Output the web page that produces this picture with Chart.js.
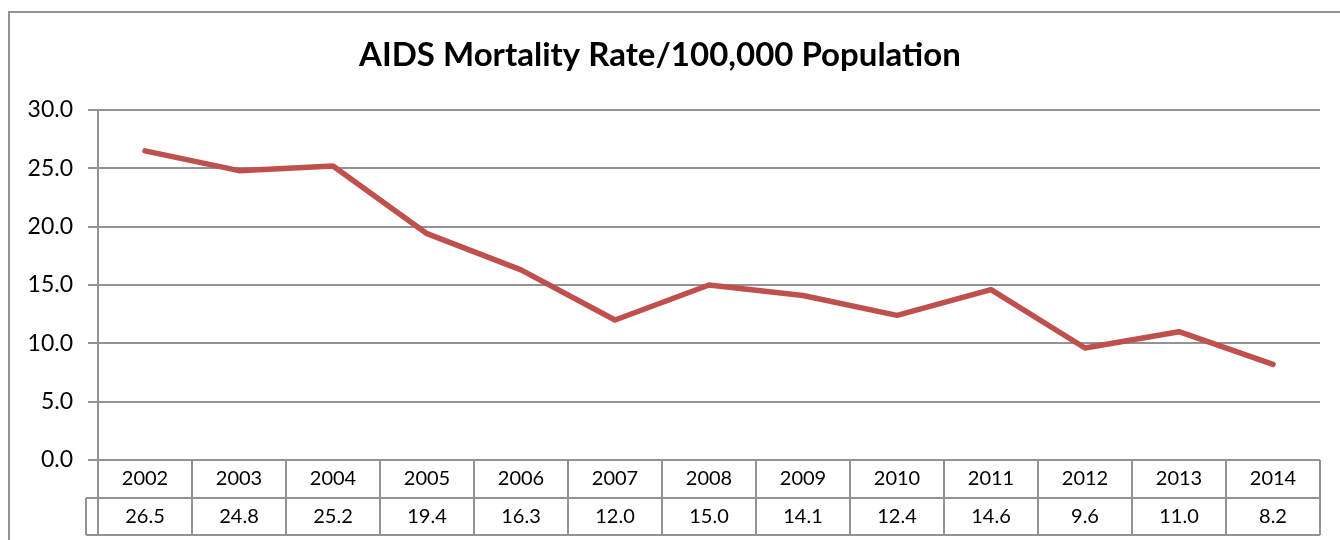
<!DOCTYPE html>
<html>
<head>
<meta charset="utf-8">
<script src="https://cdn.jsdelivr.net/npm/chart.js@4"></script>
<style>
  html, body { margin: 0; padding: 0; background: #fff; }
  #chart { position: relative; width: 1340px; height: 540px; }
</style>
</head>
<body>
<div id="chart"><canvas id="c"></canvas></div>
<script>
const years = ['2002', '2003', '2004', '2005', '2006', '2007', '2008', '2009', '2010', '2011', '2012', '2013', '2014']
const rates = [26.5, 24.8, 25.2, 19.4, 16.3, 12.0, 15.0, 14.1, 12.4, 14.6, 9.6, 11.0, 8.2]
const titleText = 'AIDS Mortality Rate/100,000 Population'

const FONT = 'Lato, "Noto Sans", sans-serif'
const GRID = '#939393'

// outer frame + the data table under the plot
const tablePlugin = {
  id: 'dataTable',
  beforeDraw(chart) {
    const ctx = chart.ctx
    ctx.save()
    ctx.strokeStyle = GRID
    ctx.lineWidth = 2
    ctx.beginPath()
    ctx.moveTo(9, chart.height)
    ctx.lineTo(9, 12)
    ctx.lineTo(chart.width, 12)
    ctx.stroke()
    ctx.restore()
  },
  afterDraw(chart) {
    const { ctx, chartArea } = chart
    const x = chart.scales.x
    const y = chart.scales.y
    const top = y.getPixelForValue(0)
    const rowH = 37.5
    const half = (x.getPixelForValue(1) - x.getPixelForValue(0)) / 2
    const left = chartArea.left
    const right = chartArea.right
    const stub = left - 12

    ctx.save()
    ctx.strokeStyle = GRID
    ctx.lineWidth = 2
    ctx.beginPath()
    // horizontal rules
    ctx.moveTo(stub, Math.round(top + rowH)); ctx.lineTo(right, Math.round(top + rowH))
    ctx.moveTo(stub, Math.round(top + 2 * rowH)); ctx.lineTo(right, Math.round(top + 2 * rowH))
    // stub box left edge
    ctx.moveTo(stub, Math.round(top + rowH)); ctx.lineTo(stub, Math.round(top + 2 * rowH))
    // cell dividers
    for (let i = 0; i <= years.length; i++) {
      const px = i === years.length ? right : (i === 0 ? left : Math.round(x.getPixelForValue(i) - half))
      ctx.moveTo(px, top); ctx.lineTo(px, Math.round(top + 2 * rowH))
    }
    ctx.stroke()

    ctx.fillStyle = '#000'
    ctx.font = '20px ' + FONT
    ctx.textAlign = 'center'
    ctx.textBaseline = 'middle'
    years.forEach((yr, i) => {
      const cx = x.getPixelForValue(i)
      ctx.fillText(yr, cx, top + rowH / 2)
      ctx.fillText(rates[i].toFixed(1), cx, top + rowH * 1.5)
    })
    ctx.restore()
  }
}

const chart = new Chart(document.getElementById('c'), {
  type: 'line',
  data: {
    labels: years,
    datasets: [{
      label: 'AIDS Mortality Rate',
      data: rates,
      borderColor: '#C0504D',
      backgroundColor: 'transparent',
      borderWidth: 5.5,
      borderJoinStyle: 'round',
      borderCapStyle: 'round',
      pointRadius: 0,
      tension: 0
    }]
  },
  options: {
    responsive: true,
    maintainAspectRatio: false,
    animation: false,
    layout: { padding: { left: 0, right: 20, top: 0, bottom: 80 } },
    plugins: {
      legend: { display: false },
      tooltip: { enabled: false },
      title: {
        display: true,
        text: titleText,
        color: '#000',
        font: { family: FONT, size: 33, weight: 'bold' },
        padding: { top: 35.5, bottom: 34.9 }
      }
    },
    scales: {
      x: {
        display: false,
        offset: true
      },
      y: {
        min: 0,
        max: 30,
        afterFit: s => { s.width = 98 },
        ticks: {
          stepSize: 5,
          padding: 15,
          color: '#000',
          font: { family: FONT, size: 23 },
          callback: v => Number(v).toFixed(1)
        },
        grid: { color: GRID, lineWidth: 2, tickLength: 10 },
        border: { display: true, color: GRID, width: 2 }
      }
    }
  },
  plugins: [tablePlugin]
})
</script>
</body>
</html>
